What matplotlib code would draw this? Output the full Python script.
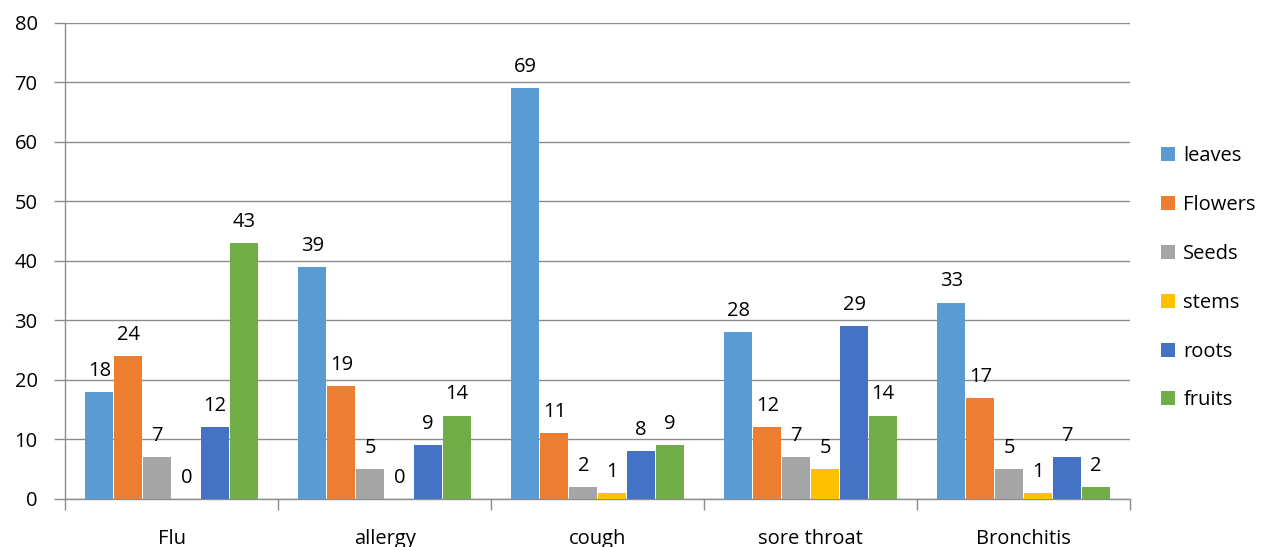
import numpy as np
import matplotlib.pyplot as plt

# data
diseases = ["Flu", "allergy", "cough", "sore throat", "Bronchitis"]
parts = ["leaves", "Flowers", "Seeds", "stems", "roots", "fruits"]
leaves = [18, 39, 69, 28, 33]
flowers = [24, 19, 11, 12, 17]
seeds = [7, 5, 2, 7, 5]
stems = [0, 0, 1, 5, 1]
roots = [12, 9, 8, 29, 7]
fruits = [43, 14, 9, 14, 2]

series = [leaves, flowers, seeds, stems, roots, fruits]
colors = ["#5B9BD5", "#ED7D31", "#A5A5A5", "#FFC000", "#4472C4", "#70AD47"]

plt.rcParams["font.family"] = ["Open Sans", "DejaVu Sans"]
fs = 14.5

fig = plt.figure(figsize=(12.8, 5.47), dpi=100)
ax = fig.add_axes([0.051, 0.088, 0.832, 0.87])

x = np.arange(len(diseases))
w = 0.136
for i, (vals, name, col) in enumerate(zip(series, parts, colors)):
    pos = x + (i - 2.5) * w
    bars = ax.bar(pos, vals, width=w * 0.96, color=col, label=name, zorder=3)
    ax.bar_label(bars, labels=[str(v) for v in vals], padding=8, fontsize=fs)

ax.set_xlim(-0.5, len(diseases) - 0.5)
ax.set_ylim(0, 80)
ax.set_yticks(range(0, 81, 10))
ax.yaxis.grid(True, color="#8c8c8c", linewidth=1.0, zorder=0)
ax.set_xticks(x)
ax.set_xticklabels(diseases, fontsize=fs)
ax.tick_params(axis="x", length=0, pad=22)
ax.set_xticks(np.arange(-0.5, len(diseases)), minor=True)
ax.tick_params(axis="x", which="minor", length=8, color="#8c8c8c", width=1)
ax.tick_params(axis="y", length=8, color="#8c8c8c", width=1, labelsize=fs, pad=12)

for s in ["top", "right"]:
    ax.spines[s].set_visible(False)
for s in ["left", "bottom"]:
    ax.spines[s].set_color("#8c8c8c")
    ax.spines[s].set_linewidth(1.0)

fig.legend(loc="center left", bbox_to_anchor=(0.893, 0.491), frameon=False,
           fontsize=fs, labelspacing=1.43, handlelength=0.7, handleheight=0.7,
           handletextpad=0.4)

fig.savefig("out.png", dpi=100)
